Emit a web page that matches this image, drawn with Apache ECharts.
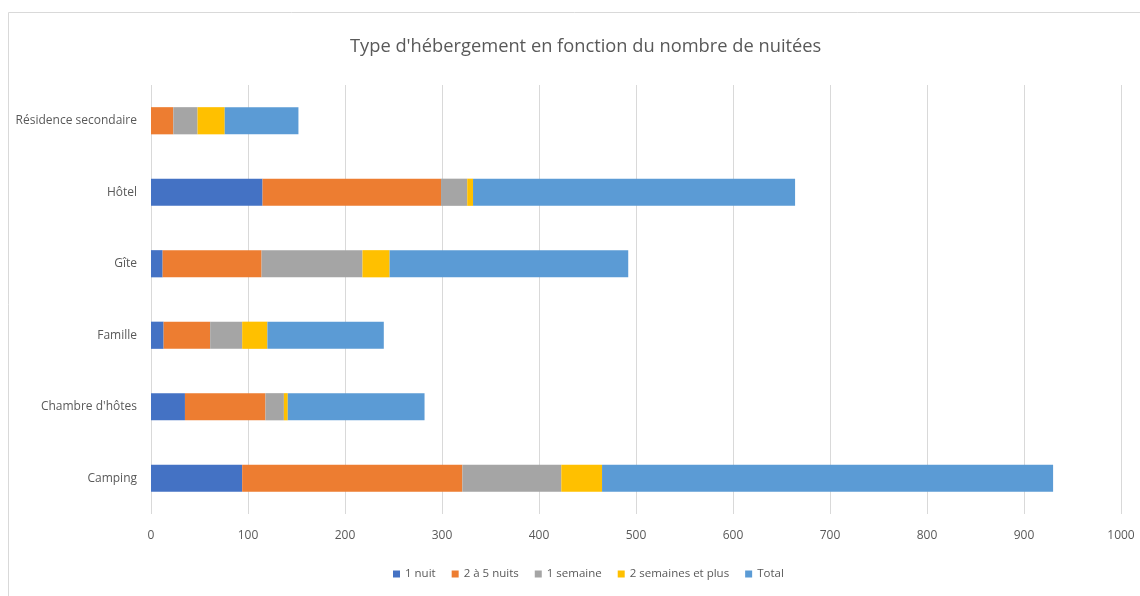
<!DOCTYPE html>
<html>
<head>
<meta charset="utf-8">
<script src="https://cdn.jsdelivr.net/npm/echarts@6/dist/echarts.min.js"></script>
<style>
  html, body { margin: 0; padding: 0; background: #fff; }
  #chart { width: 1140px; height: 596px; }
</style>
</head>
<body>
<div id="chart"></div>
<script>
// Hébergements (du bas vers le haut de l'axe)
const categories = ['Camping', "Chambre d'hôtes", 'Famille', 'Gîte', 'Hôtel', 'Résidence secondaire'];

const uneNuit          = [94, 35, 13, 12, 115, 0];
const deuxACinq        = [227, 83, 48, 102, 184, 23];
const uneSemaine       = [102, 19, 33, 104, 27, 25];
const deuxSemainesPlus = [42, 4, 26, 28, 6, 28];
const total            = [465, 141, 120, 246, 332, 76];

const xTicks = { min: 0, max: 1000, interval: 100 };

const FONT = '"Open Sans", sans-serif';

const seriesDefs = [
  { name: '1 nuit', data: uneNuit, color: '#4472c4' },
  { name: '2 à 5 nuits', data: deuxACinq, color: '#ed7d31' },
  { name: '1 semaine', data: uneSemaine, color: '#a5a5a5' },
  { name: '2 semaines et plus', data: deuxSemainesPlus, color: '#ffc000' },
  { name: 'Total', data: total, color: '#5b9bd5' }
];

const chart = echarts.init(document.getElementById('chart'));
chart.setOption({
  animation: false,
  textStyle: { fontFamily: FONT },
  title: {
    text: "Type d'hébergement en fonction du nombre de nuitées",
    left: 345,
    top: 33,
    textStyle: { fontFamily: FONT, fontSize: 18.3, fontWeight: 'normal', color: '#595959' }
  },
  graphic: [{
    type: 'rect',
    shape: { x: 8.5, y: 12.5, width: 1200, height: 700 },
    style: { fill: 'none', stroke: '#d9d9d9', lineWidth: 1 },
    silent: true, z: -1
  }],
  legend: {
    bottom: 11,
    left: 388,
    itemWidth: 7,
    itemHeight: 7,
    itemGap: 16,
    icon: 'rect',
    textStyle: { fontFamily: FONT, fontSize: 11.5, color: '#595959' },
    data: seriesDefs.map(s => s.name)
  },
  grid: { left: 151, right: 19, top: 85, bottom: 82, containLabel: false },
  xAxis: {
    type: 'value',
    min: xTicks.min,
    max: xTicks.max,
    interval: xTicks.interval,
    axisLine: { show: false },
    axisTick: { show: false },
    axisLabel: { color: '#595959', fontSize: 12, margin: 16, fontFamily: FONT, formatter: v => String(v) },
    splitLine: { show: true, lineStyle: { color: '#d9d9d9', width: 1 } }
  },
  yAxis: {
    type: 'category',
    data: categories,
    axisLine: { show: false },
    axisTick: { show: false },
    axisLabel: { color: '#595959', fontSize: 12, margin: 14, fontFamily: FONT },
    splitLine: { show: false }
  },
  series: seriesDefs.map(s => ({
    name: s.name,
    type: 'bar',
    stack: 'all',
    data: s.data,
    barWidth: '38%',
    itemStyle: { color: s.color }
  }))
});
</script>
</body>
</html>
